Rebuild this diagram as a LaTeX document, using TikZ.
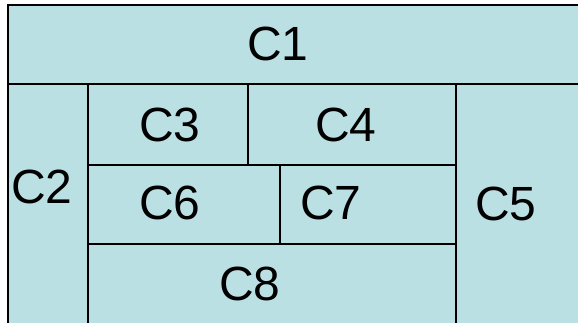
\documentclass[tikz,border=0pt]{standalone}
\usepackage{fontspec}
\setmainfont{Liberation Sans}
\definecolor{cellblue}{RGB}{187,224,227}
\tikzset{
  cell/.style={draw=black,line width=2.6pt,fill=cellblue},
  celltext/.style={inner sep=0pt,font=\fontsize{48}{56}\selectfont}
}
\begin{document}
\begin{tikzpicture}[x=1pt,y=-1pt]
  \useasboundingbox (0,0) rectangle (578,322);
  \fill[white] (0,0) rectangle (578,322);
  \clip (0,0) rectangle (578,322);

  % Cells (the right and bottom edges run off the page)
  \draw[cell] (8,5) rectangle (620,84);
  \draw[cell] (8,84) rectangle (88,340);
  \draw[cell] (88,84) rectangle (248,165);
  \draw[cell] (248,84) rectangle (456,165);
  \draw[cell] (88,165) rectangle (280,244);
  \draw[cell] (280,165) rectangle (456,244);
  \draw[cell] (88,244) rectangle (456,340);
  \draw[cell] (456,84) rectangle (620,340);

  % Labels
  \node[celltext] (c1) at (278,44) {C1};
  \node[celltext] (c2) at (42,187) {C2};
  \node[celltext] (c3) at (170,125) {C3};
  \node[celltext] (c4) at (346,125) {C4};
  \node[celltext] (c5) at (506,204) {C5};
  \node[celltext] (c6) at (170,203) {C6};
  \node[celltext] (c7) at (331,203) {C7};
  \node[celltext] (c8) at (250,284) {C8};
\end{tikzpicture}
\end{document}
